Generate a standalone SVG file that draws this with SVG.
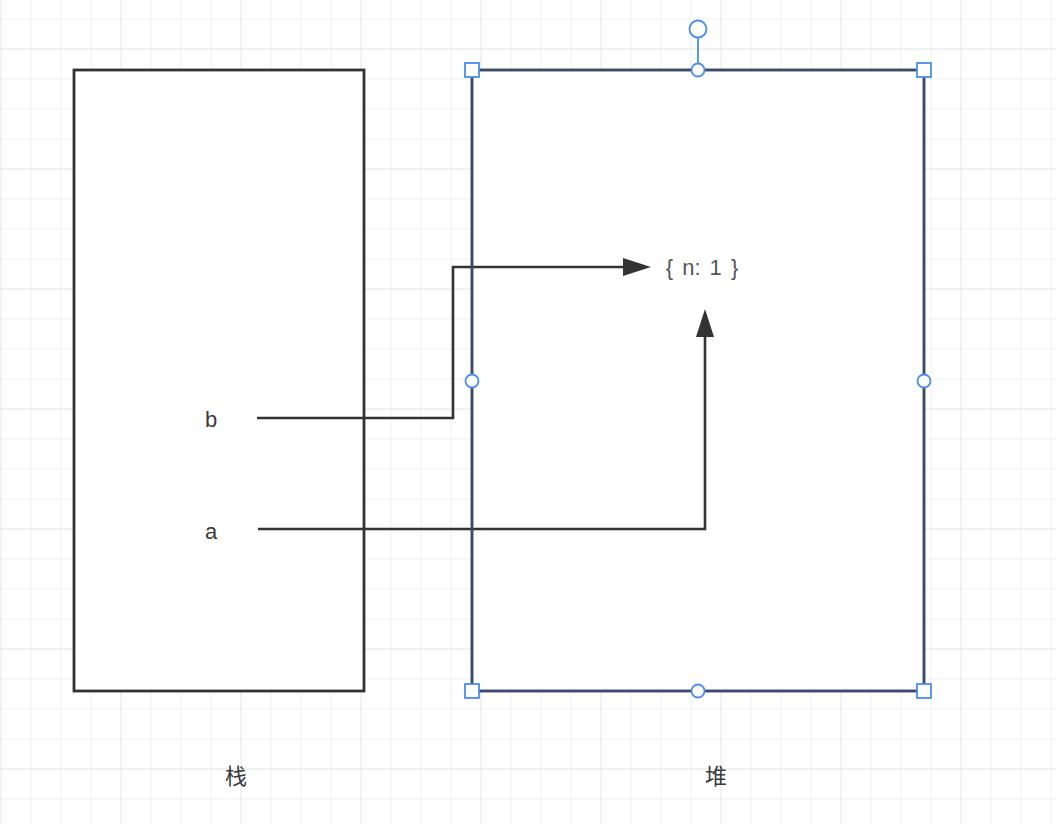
<svg xmlns="http://www.w3.org/2000/svg" width="1056" height="824" viewBox="0 0 1056 824">
<style>
.gmin{stroke:#f0f0f0;stroke-width:1;fill:none}
.gmaj{stroke:#e4e4e4;stroke-width:1;fill:none}
.box{fill:#ffffff;stroke:#333333;stroke-width:2.8}
.lbl{font-family:"Liberation Sans","Noto Sans CJK SC",sans-serif;font-size:22px;fill:#3a3a3a;text-anchor:middle}
.obj{fill:#555555;word-spacing:3px}
.conn{fill:none;stroke:#333333;stroke-width:2.6}
.sel{fill:none;stroke:#3b6fd0;stroke-width:1;stroke-opacity:0.85}
.h{fill:#ffffff;stroke:#4a8df0;stroke-width:1.8}
</style>
<defs>
<marker id="arr" markerUnits="userSpaceOnUse" markerWidth="30" markerHeight="20" refX="0" refY="9" orient="auto" overflow="visible">
<path d="M0,0 L28,9 L0,18 Z" fill="#333333"/>
</marker>
</defs>
<rect width="1056" height="824" fill="#ffffff"/>
<g id="grid">
<path class="gmin" d="M31 0V824M61 0V824M91 0V824M151 0V824M181 0V824M211 0V824M271 0V824M301 0V824M331 0V824M391 0V824M421 0V824M451 0V824M511 0V824M541 0V824M571 0V824M631 0V824M661 0V824M691 0V824M751 0V824M781 0V824M811 0V824M871 0V824M901 0V824M931 0V824M991 0V824M1021 0V824M1051 0V824M0 19H1056M0 79H1056M0 109H1056M0 139H1056M0 199H1056M0 229H1056M0 259H1056M0 319H1056M0 349H1056M0 379H1056M0 439H1056M0 469H1056M0 499H1056M0 559H1056M0 589H1056M0 619H1056M0 679H1056M0 709H1056M0 739H1056M0 799H1056"/>
<path class="gmaj" d="M1 0V824M121 0V824M241 0V824M361 0V824M481 0V824M601 0V824M721 0V824M841 0V824M961 0V824M0 49H1056M0 169H1056M0 289H1056M0 409H1056M0 529H1056M0 649H1056M0 769H1056"/>
</g>
<g id="stack">
<rect class="box" x="74" y="70" width="290" height="621"/>
<text class="lbl" x="236" y="784">栈</text>
</g>
<g id="heap">
<rect class="box" x="472" y="70" width="452" height="621"/>
<text class="lbl" x="716" y="784">堆</text>
</g>
<g id="var-b"><text class="lbl" x="211" y="427">b</text></g>
<g id="var-a"><text class="lbl" x="211" y="539">a</text></g>
<g id="object"><text class="lbl obj" x="702" y="275">{ n: 1 }</text></g>
<g id="connectors">
<path class="conn" d="M257 418H453V267H623" marker-end="url(#arr)"/>
<path class="conn" d="M258 529H705V337" marker-end="url(#arr)"/>
</g>
<g id="selection">
<rect class="sel" x="472" y="70" width="452" height="621"/>
<path d="M698 38V63" stroke="#4a8df0" stroke-width="1.8"/>
<circle class="h" cx="698" cy="29" r="8.5"/>
<circle class="h" cx="698" cy="70" r="6.5"/>
<circle class="h" cx="472" cy="381" r="6.5"/>
<circle class="h" cx="924" cy="381" r="6.5"/>
<circle class="h" cx="698" cy="691" r="6.5"/>
<rect class="h" x="465" y="63" width="14" height="14"/>
<rect class="h" x="917" y="63" width="14" height="14"/>
<rect class="h" x="465" y="684" width="14" height="14"/>
<rect class="h" x="917" y="684" width="14" height="14"/>
</g>
</svg>
